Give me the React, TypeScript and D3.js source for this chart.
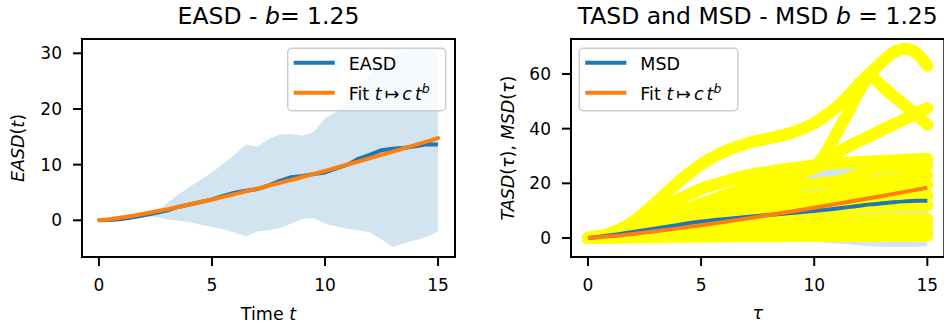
import React from "react";
import * as d3 from "d3";

// ---------- data ----------
const tEASD = [0,0.5,1,1.5,2,2.5,3,3.5,4,4.5,5,5.5,6,6.5,7,7.5,8,8.5,9,9.5,10,10.5,11,11.5,12,12.5,13,13.5,14,14.5,15];
const easd = [0,0.05,0.25,0.55,0.9,1.3,1.75,2.4,2.85,3.3,3.75,4.4,4.95,5.3,5.6,6.25,7.1,7.75,7.95,8.3,8.6,9.35,10.0,11.1,11.8,12.6,12.85,13.05,13.3,13.65,13.6];
const easdUpper = [0,0.1,0.3,0.6,1.0,1.6,3.0,4.6,6.0,7.3,8.6,10.2,11.8,13.6,13.2,14.6,15.4,15.5,15.2,15.9,18.3,19.5,21.8,24.0,26.3,28.2,29.6,30.3,30.7,30.8,29.8];
const easdLower = [0,0.05,0.2,0.45,0.7,0.6,0.2,-0.1,-0.3,-0.8,-1.2,-1.6,-2.2,-2.9,-2.0,-1.8,-1.4,-0.6,0.3,0.4,-0.6,-1.1,-1.5,-1.8,-2.2,-3.4,-4.8,-4.1,-3.6,-3.0,-2.0];
const easdFit = [0,0.21,0.5,0.83,1.19,1.57,1.97,2.39,2.83,3.28,3.74,4.21,4.7,5.19,5.69,6.2,6.73,7.25,7.79,8.34,8.89,9.45,10.02,10.59,11.17,11.75,12.34,12.94,13.54,14.15,14.76];

const tauGrid = [0,1,2,3,4,5,6,7,8,9,10,10.5,11,11.5,12,12.5,13,13.5,14,14.5,15];
const msd = [0,1.0,2.2,3.5,4.8,6.0,6.9,7.7,8.4,9.1,9.9,10.3,10.8,11.3,11.8,12.3,12.7,13.1,13.4,13.6,13.6];
const msdFit = [0,0.62,1.48,2.46,3.52,4.66,5.85,7.09,8.38,9.71,11.08,11.78,12.48,13.2,13.91,14.64,15.38,16.12,16.87,17.63,18.39];
const msdUpper = [0,1.5,3.5,6,8.5,11,13.5,16,18.5,21,24,25.5,27,28,28.8,29.2,29.5,29.7,29.8,29.7,29.5];
const msdLower = [0,0.5,0.9,1,1,0.8,0.3,-0.3,-0.8,-1.2,-1.5,-1.7,-2,-2.3,-2.7,-3,-3.2,-3.3,-3.3,-3.2,-3.0];

const tasdA = [0,1.8,6,13,20.5,27,31.5,34.5,36.5,38.5,42,44.8,48,52,56.5,60.5,64.5,67.8,69.2,67.8,63];
const tasdB = [0,1,3,6,9.5,12.5,15.5,18.5,21.5,23.5,26,31,38.5,46,54,59,55.5,52,48.5,45,41.5];
const tasdC = [0,1,3.5,6.5,9.5,12.5,15,17.5,20,22.5,25.5,28,31,33.5,35.5,37.5,39.5,41.5,43.5,45.5,47.5];
const tasdD = [0,1.5,5,10,14,18,20.5,22.8,24.3,25.5,26.5,27,27.3,27.6,27.8,28,28.2,28.4,28.6,28.8,29];
const tasdF = [0,0.8,2.5,4.5,7,9.5,12,14.5,16.8,18.8,19.8,20.2,20.6,21.8,23.5,25,25.8,26.2,26.5,26.5,26.4];
const tasdH = [0,0.9,2.2,3.8,5.5,7.2,8.8,10.3,11.8,13.2,14.5,15.5,16.8,18,19.2,20.2,21,21.6,22.1,22.5,22.8];
const tasdG = [0,1.2,3.2,5.5,8,10,11.5,12.8,13.8,14.5,15,15.5,16,16.5,17,17.5,18,18.5,18.8,19,19.2];
const tasdI = [0,0.7,1.6,2.7,3.9,5,6.2,7.4,8.6,9.8,11,11.6,12.2,12.8,13.4,13.9,14.4,14.8,15.1,15.3,15.5];
const tasdJ = [0,0.8,1.8,3,4.2,5.5,6.5,7.5,8.5,9.3,10,10.4,10.8,11.1,11.4,11.6,11.8,11.9,12,12,12];
const tasdK = [0,0.5,1.2,2,2.8,3.5,4,4.5,5,5.5,6,6.2,6.4,6.6,6.8,6.9,7,7,7,7,7];
const tasdL = [0,0.4,0.9,1.4,1.9,2.3,2.7,3,3.3,3.6,3.9,4,4.1,4.2,4.3,4.4,4.4,4.5,4.5,4.5,4.5];
const tasdM = [0,0.3,0.5,0.7,0.9,1.1,1.3,1.4,1.5,1.6,1.7,1.75,1.8,1.85,1.9,1.9,1.95,2,2,2,2];
const tasdN = [0,0.1,0.2,0.3,0.4,0.5,0.55,0.6,0.65,0.7,0.7,0.72,0.74,0.75,0.76,0.77,0.78,0.79,0.8,0.8,0.8];
const tasdCurves = [tasdA, tasdB, tasdC, tasdD, tasdF, tasdH, tasdG, tasdI, tasdJ, tasdK, tasdL, tasdM, tasdN];

const xTicks = [0, 5, 10, 15];
const leftYTicks = [0, 10, 20, 30];
const rightYTicks = [0, 20, 40, 60];

// ---------- style ----------
const BLUE = "#1f77b4";
const ORANGE = "#ff7f0e";
const YELLOW = "#ffff00";
const FONT = "DejaVu Sans";
const TICK_FS = 17;
const LABEL_FS = 17.5;
const TITLE_FS = 23.5;

type Box = { x0: number; x1: number; y0: number; y1: number };

function Axes({ box, x, y, yTicks, clipId, children }: any) {
  return (
    <g>
      <defs>
        <clipPath id={clipId}>
          <rect x={box.x0} y={box.y0} width={box.x1 - box.x0} height={box.y1 - box.y0} />
        </clipPath>
      </defs>
      <g clipPath={`url(#${clipId})`}>{children}</g>
      <rect x={box.x0} y={box.y0} width={box.x1 - box.x0} height={box.y1 - box.y0} fill="none" stroke="#000" strokeWidth={2} />
      {xTicks.map((t: number) => (
        <g key={"x" + t}>
          <line x1={x(t)} x2={x(t)} y1={box.y1} y2={box.y1 + 9} stroke="#000" strokeWidth={2} />
          <text x={x(t)} y={box.y1 + 34} textAnchor="middle" fontSize={TICK_FS} fontFamily={FONT}>{t}</text>
        </g>
      ))}
      {yTicks.map((v: number) => (
        <g key={"y" + v}>
          <line x1={box.x0 - 9} x2={box.x0} y1={y(v)} y2={y(v)} stroke="#000" strokeWidth={2} />
          <text x={box.x0 - 20} y={y(v)} dy="0.36em" textAnchor="end" fontSize={TICK_FS} fontFamily={FONT}>{v}</text>
        </g>
      ))}
    </g>
  );
}

function Legend({ x0, y0, w, h, first }: any) {
  const lx0 = x0 + 6, lx1 = x0 + 47, tx = x0 + 61;
  const r1 = y0 + 14.5, r2 = y0 + 44.5;
  return (
    <g fontFamily={FONT} fontSize={LABEL_FS}>
      <rect x={x0} y={y0} width={w} height={h} rx={4} fill="#fff" fillOpacity={0.8} stroke="#cccccc" strokeWidth={1.5} />
      <line x1={lx0} x2={lx1} y1={r1} y2={r1} stroke={BLUE} strokeWidth={4} />
      <text x={tx} y={r1 + 6.8}>{first}</text>
      <line x1={lx0} x2={lx1} y1={r2} y2={r2} stroke={ORANGE} strokeWidth={4} />
      <text x={tx} y={r2 + 6.8}>
        {"Fit "}
        <tspan fontStyle="italic">t</tspan>
        <tspan dx={3}>{"\u21a6"}</tspan>
        <tspan dx={3} fontStyle="italic">c</tspan>
        <tspan dx={3} fontStyle="italic">t</tspan>
        <tspan dy={-7} fontSize={12.5} fontStyle="italic">b</tspan>
      </text>
    </g>
  );
}

export default function App() {
  const L: Box = { x0: 82, x1: 455, y0: 39, y1: 257 };
  const R: Box = { x0: 571, x1: 944.3, y0: 39, y1: 257 };

  const xL = d3.scaleLinear().domain([-0.75, 15.75]).range([L.x0, L.x1]);
  const yL = d3.scaleLinear().domain([-6.59, 32.57]).range([L.y1, L.y0]);
  const xR = d3.scaleLinear().domain([-0.75, 15.75]).range([R.x0, R.x1]);
  const yR = d3.scaleLinear().domain([-6.95, 72.8]).range([R.y1, R.y0]);

  const bandL = d3.area<number>()
    .x((_, i) => xL(tEASD[i]))
    .y0((_, i) => yL(easdLower[i]))
    .y1((d) => yL(d))(easdUpper) || "";
  const lineL = (vals: number[], curve: any) =>
    d3.line<number>().x((_, i) => xL(tEASD[i])).y((d) => yL(d)).curve(curve)(vals) || "";

  const bandR = d3.area<number>()
    .x((_, i) => xR(tauGrid[i]))
    .y0((_, i) => yR(msdLower[i]))
    .y1((d) => yR(d))
    .curve(d3.curveMonotoneX)(msdUpper) || "";
  const lineR = (vals: number[]) =>
    d3.line<number>().x((_, i) => xR(tauGrid[i])).y((d) => yR(d)).curve(d3.curveMonotoneX)(vals) || "";

  return (
    <svg width={944} height={325} style={{ position: "absolute", left: 0, top: 0, background: "#fff" }} fontFamily={FONT}>
      <rect x={0} y={0} width={944} height={325} fill="#fff" />
      {/* Left panel */}
      <Axes box={L} x={xL} y={yL} yTicks={leftYTicks} clipId="clipL">
        <path d={bandL} fill={BLUE} fillOpacity={0.2} />
        <path d={lineL(easd, d3.curveLinear)} fill="none" stroke={BLUE} strokeWidth={4} strokeLinejoin="round" />
        <path d={lineL(easdFit, d3.curveMonotoneX)} fill="none" stroke={ORANGE} strokeWidth={4} strokeLinecap="round" />
      </Axes>
      <Legend x0={287.7} y0={48.3} w={158} h={62.4} first="EASD" />
      <text x={268.5} y={24} textAnchor="middle" fontSize={TITLE_FS}>
        {"EASD - "}<tspan fontStyle="italic">b</tspan>{"= 1.25"}
      </text>
      <text x={268.5} y={320} textAnchor="middle" fontSize={LABEL_FS}>
        {"Time "}<tspan fontStyle="italic">t</tspan>
      </text>
      <text transform="translate(24,148) rotate(-90)" textAnchor="middle" fontSize={LABEL_FS}>
        <tspan fontStyle="italic">EASD</tspan>(<tspan fontStyle="italic">t</tspan>)
      </text>

      {/* Right panel */}
      <Axes box={R} x={xR} y={yR} yTicks={rightYTicks} clipId="clipR">
        <path d={bandR} fill={BLUE} fillOpacity={0.2} />
        {tasdCurves.map((c, i) => (
          <path key={i} d={lineR(c)} fill="none" stroke={YELLOW} strokeWidth={12} strokeLinecap="round" strokeLinejoin="round" />
        ))}
        <path d={lineR(msd)} fill="none" stroke={BLUE} strokeWidth={4} />
        <path d={lineR(msdFit)} fill="none" stroke={ORANGE} strokeWidth={4} />
      </Axes>
      <Legend x0={579.3} y0={48.3} w={158.5} h={62.4} first="MSD" />
      <text x={757.7} y={24} textAnchor="middle" fontSize={TITLE_FS}>
        {"TASD and MSD - MSD "}<tspan fontStyle="italic">b</tspan>{" = 1.25"}
      </text>
      <text x={757.7} y={319} textAnchor="middle" fontSize={LABEL_FS} fontStyle="italic">{"\u03c4"}</text>
      <text transform="translate(514,148) rotate(-90)" textAnchor="middle" fontSize={LABEL_FS}>
        <tspan fontStyle="italic">TASD</tspan>(<tspan fontStyle="italic">{"\u03c4"}</tspan>), <tspan fontStyle="italic">MSD</tspan>(<tspan fontStyle="italic">{"\u03c4"}</tspan>)
      </text>
    </svg>
  );
}
